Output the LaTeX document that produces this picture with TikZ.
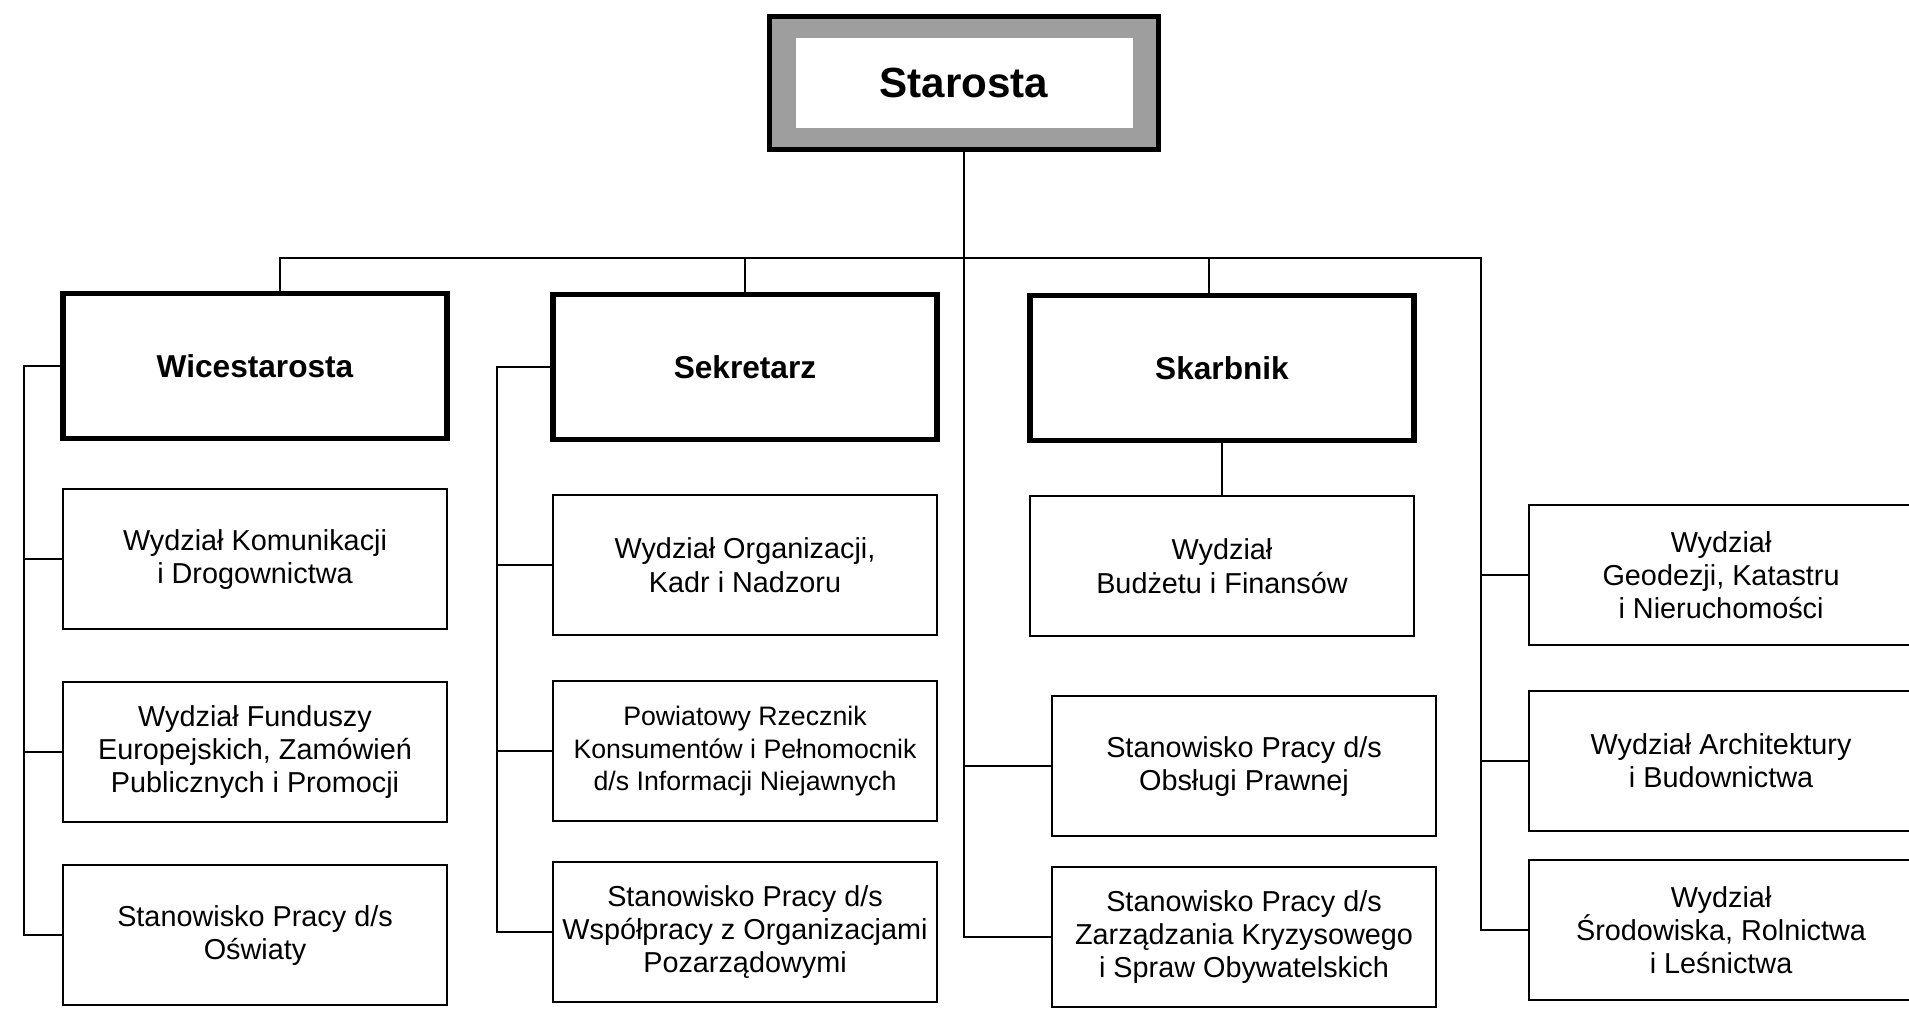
\documentclass[tikz,border=0pt]{standalone}
\usepackage{fontspec}
\setmainfont{Liberation Sans}
\usetikzlibrary{positioning,fit,backgrounds}

\begin{document}
\begin{tikzpicture}[node distance=0.46cm, every node/.style={font=\fontsize{8.2}{9.4}\selectfont},
  unit/.style={draw,line width=0.6pt,align=center,minimum width=3.84cm,minimum height=1.4cm,inner sep=2pt},
  head/.style={unit,line width=1.5pt,minimum height=1.45cm,font=\fontsize{9}{11}\selectfont\bfseries},
  link/.style={line width=0.55pt}]
\useasboundingbox (0,0) rectangle (19.09,-10.28);
\node[font=\fontsize{12}{14}\selectfont\bfseries,fill=white,minimum width=3.37cm,minimum height=0.9cm] (starosta) at (9.64,-0.83) {Starosta};
\begin{scope}[on background layer]
\node[fit=(starosta),inner xsep=0.25cm,inner ysep=0.21cm,fill=black!38,draw,line width=1.5pt] (frame) {};
\end{scope}
% heads
\node[head] (wice) at (2.55,-3.66) {Wicestarosta};
\node[head] (sekr) at (7.45,-3.67) {Sekretarz};
\node[head] (skarb) at (12.22,-3.68) {Skarbnik};
% column 1
\node[unit,below=0.47cm of wice] (komun) {Wydział Komunikacji\\i Drogownictwa};
\node[unit,below=0.51cm of komun] (fundusze) {Wydział Funduszy\\Europejskich, Zamówień\\Publicznych i Promocji};
\node[unit,below=0.41cm of fundusze] (oswiata) {Stanowisko Pracy d/s\\Oświaty};
% column 2
\node[unit,below=0.52cm of sekr] (organiz) {Wydział Organizacji,\\Kadr i Nadzoru};
\node[unit,below=0.44cm of organiz,font=\fontsize{7.6}{9.2}\selectfont] (rzecznik) {Powiatowy Rzecznik\\Konsumentów i Pełnomocnik\\d/s Informacji Niejawnych};
\node[unit,below=0.39cm of rzecznik] (ngo) {Stanowisko Pracy d/s\\Współpracy z Organizacjami\\Pozarządowymi};
% column 3
\node[unit,below=0.52cm of skarb] (budzet) {Wydział\\Budżetu i Finansów};
\node[unit,below=0.58cm of budzet,xshift=0.22cm] (prawna) {Stanowisko Pracy d/s\\Obsługi Prawnej};
\node[unit,below=0.29cm of prawna] (kryzys) {Stanowisko Pracy d/s\\Zarządzania Kryzysowego\\i Spraw Obywatelskich};
% column 4
\node[unit,anchor=west] (geodez) at (15.28,-5.75) {Wydział\\Geodezji, Katastru\\i Nieruchomości};
\node[unit,below=0.44cm of geodez] (archit) {Wydział Architektury\\i Budownictwa};
\node[unit,below=0.27cm of archit] (srodow) {Wydział\\Środowiska, Rolnictwa\\i Leśnictwa};
% connectors
\coordinate (busend) at (14.81,-2.58);
\draw[link] (frame.south) |- (kryzys.west);
\draw[link] (prawna.west) -- (prawna.west -| frame.south);
\draw[link] ([xshift=0.25cm]wice.north) |- (busend) |- (srodow.west);
\draw[link] (sekr.north) -- (sekr.north |- busend);
\draw[link] ([xshift=-0.13cm]skarb.north) -- ([xshift=-0.13cm]skarb.north |- busend);
\draw[link] (geodez.west) -- (geodez.west -| busend);
\draw[link] (archit.west) -- (archit.west -| busend);
\draw[link] (skarb.south) -- (budzet.north);
\draw[link] (wice.west) -- ++(-0.36,0) coordinate (spineA) |- (oswiata.west);
\draw[link] (komun.west) -- (komun.west -| spineA);
\draw[link] (fundusze.west) -- (fundusze.west -| spineA);
\draw[link] (sekr.west) -- ++(-0.53,0) coordinate (spineB) |- (ngo.west);
\draw[link] (organiz.west) -- (organiz.west -| spineB);
\draw[link] (rzecznik.west) -- (rzecznik.west -| spineB);
\end{tikzpicture}
\end{document}
